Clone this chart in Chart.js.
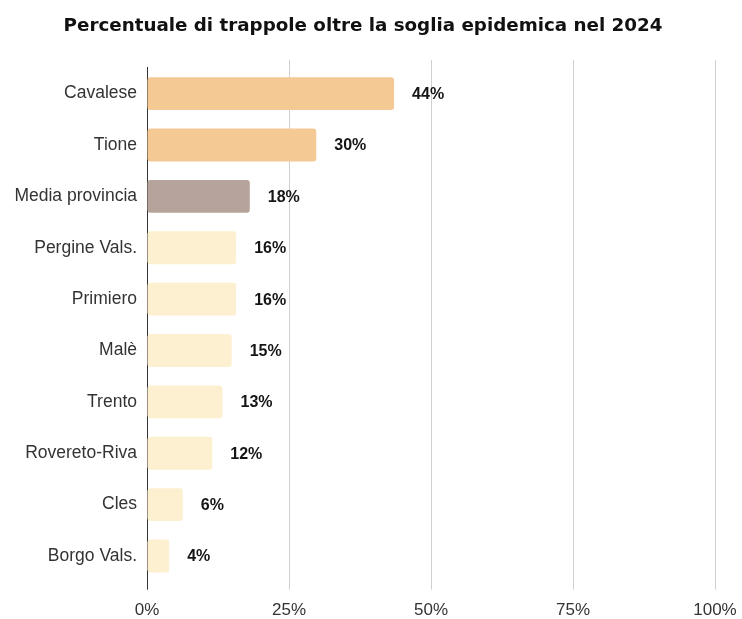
<!DOCTYPE html>
<html>
<head>
<meta charset="utf-8">
<script src="https://cdn.jsdelivr.net/npm/chart.js@4.4.1/dist/chart.umd.min.js"></script>
<style>
  body { margin: 0; background: #fff; }
  #wrap { width: 742px; height: 619px; }
</style>
</head>
<body>
<div id="wrap"><canvas id="trapChart" width="742" height="619"></canvas></div>
<script>
// dati
var zone = ["Cavalese", "Tione", "Media provincia", "Pergine Vals.", "Primiero", "Malè", "Trento", "Rovereto-Riva", "Cles", "Borgo Vals."];
var percentuali = [43.5, 29.8, 18.1, 15.7, 15.7, 14.9, 13.3, 11.5, 6.3, 3.9];
var tickValori = [0, 25, 50, 75, 100];

var coloreAlto = "#f5c994";
var coloreMedia = "#b6a39c";
var coloreBasso = "#fdf0d0";

var colori = percentuali.map(function(v, i) {
    if (zone[i] == "Media provincia") return coloreMedia;
    return v > 25 ? coloreAlto : coloreBasso;
});

// etichette a destra delle barre
var valueLabels = {
    id: 'valueLabels',
    afterDatasetsDraw: function(chart) {
        var ctx = chart.ctx;
        var meta = chart.getDatasetMeta(0);
        ctx.save();
        ctx.font = "bold 16px 'Liberation Sans', Arial, sans-serif";
        ctx.fillStyle = "#151515";
        ctx.textAlign = "left";
        ctx.textBaseline = "middle";
        meta.data.forEach(function(bar, i) {
            ctx.fillText(Math.round(percentuali[i]) + "%", bar.x + 18, bar.y + 1);
        });
        ctx.restore();
    }
};

// prolunga le linee della griglia sopra l'area
var gridTop = {
    id: 'gridTop',
    beforeDatasetsDraw: function(chart) {
        var ctx = chart.ctx;
        var x = chart.scales.x;
        var top = chart.chartArea.top;
        ctx.save();
        ctx.strokeStyle = "#d0d0d0";
        ctx.lineWidth = 1;
        tickValori.forEach(function(v) {
            if (v == 0) return;
            var px = Math.round(x.getPixelForValue(v) - 0.5) + 0.5;
            ctx.beginPath();
            ctx.moveTo(px, top - 8);
            ctx.lineTo(px, top);
            ctx.stroke();
        });
        ctx.restore();
    }
};

var chart = new Chart(document.getElementById('trapChart'), {
    type: 'bar',
    data: {
        labels: zone,
        datasets: [{
            data: percentuali,
            backgroundColor: colori,
            borderRadius: 3,
            borderSkipped: false,
            barPercentage: 0.64,
            categoryPercentage: 1
        }]
    },
    options: {
        indexAxis: 'y',
        responsive: false,
        animation: false,
        layout: { padding: { left: 0, right: 16, top: 0, bottom: 0 } },
        plugins: {
            legend: { display: false },
            tooltip: { enabled: false },
            title: {
                display: true,
                text: "Percentuale di trappole oltre la soglia epidemica nel 2024",
                color: "#111",
                font: { family: "'DejaVu Sans', sans-serif", size: 18.3, weight: 'bold' },
                padding: { top: 15.5, bottom: 30.5 }
            }
        },
        scales: {
            x: {
                min: 0,
                max: 100,
                afterFit: function(scale) {
                    scale.height = 37.3;
                    scale.paddingRight = 27;
                },
                afterBuildTicks: function(scale) {
                    scale.ticks = tickValori.map(function(v) { return { value: v }; });
                },
                grid: {
                    color: function(c) { return c.tick && c.tick.value == 0 ? "#333" : "#d0d0d0"; },
                    tickLength: 8,
                    lineWidth: 1
                },
                border: { display: false },
                ticks: {
                    padding: 10,
                    color: "#333",
                    font: { family: "'Liberation Sans', Arial, sans-serif", size: 17 },
                    callback: function(v) { return v + "%"; }
                }
            },
            y: {
                afterFit: function(scale) { scale.width = 147; },
                grid: { display: false, drawTicks: false },
                border: { display: true, color: "#333", width: 1 },
                ticks: {
                    padding: 10,
                    color: "#333",
                    font: { family: "'Liberation Sans', Arial, sans-serif", size: 17.5 }
                }
            }
        }
    },
    plugins: [valueLabels, gridTop]
});
</script>
</body>
</html>
